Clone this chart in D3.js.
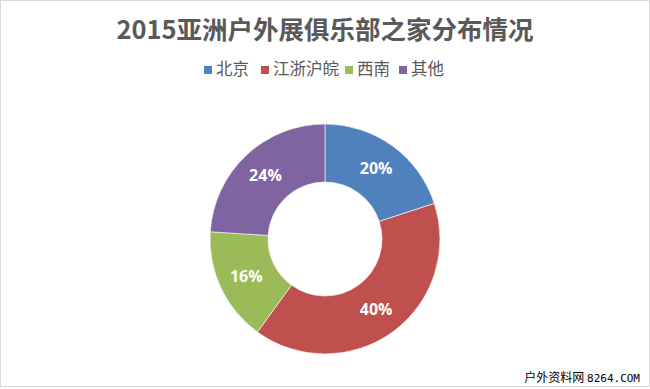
<!DOCTYPE html>
<html>
<head>
<meta charset="utf-8">
<script src="https://cdn.jsdelivr.net/npm/d3@7"></script>
<style>
  body { margin: 0; background: #fff; }
  svg { display: block; }
</style>
</head>
<body>
<svg width="650" height="389"></svg>
<script>
// chart data
var k_title = '2015亚洲户外展俱乐部之家分布情况';
var k_cats = ['北京', '江浙沪皖', '西南', '其他'];
var k_vals = [20, 40, 16, 24];
var k_colors = ['#4f81bd', '#c0504d', '#9bbb59', '#8064a2'];

var svg = d3.select('svg');
var cx = 325, cy = 239;   // donut center
var r_out = 115, r_in = 57;

// frame
svg.append('rect')
	.attr('x', 0.5).attr('y', 0.5)
	.attr('width', 649).attr('height', 386)
	.style('fill', '#fff')
	.style('stroke', '#d9d9d9');

// title
svg.append('text')
	.attr('x', 325).attr('y', 39)
	.attr('text-anchor', 'middle')
	.style('font-family', '"Noto Sans CJK SC", "Open Sans", sans-serif')
	.style('font-size', '25.5px')
	.style('font-weight', 'bold')
	.style('fill', '#595959')
	.text(k_title);

// legend
var legend_x = [204, 261, 345, 399];
var lg = svg.append('g').selectAll('g')
	.data(k_cats)
	.enter()
	.append('g')
	.attr('transform', function(d, i) { return 'translate(' + legend_x[i] + ',66)'; });

lg.append('rect')
	.attr('width', 8).attr('height', 8)
	.style('fill', function(d, i) { return k_colors[i]; });

lg.append('text')
	.attr('x', 12).attr('y', 9)
	.style('font-family', '"Noto Sans CJK SC", sans-serif')
	.style('font-size', '16.5px')
	.style('fill', '#595959')
	.text(function(d) { return d; });

// donut
var pie = d3.pie().sort(null).value(function(d) { return d; });
var arc = d3.arc().innerRadius(r_in).outerRadius(r_out);
var label_arc = d3.arc().innerRadius(87).outerRadius(87);

var g = svg.append('g').attr('transform', 'translate(' + cx + ',' + cy + ')');

g.selectAll('path')
	.data(pie(k_vals))
	.enter()
	.append('path')
	.attr('d', arc)
	.style('fill', function(d, i) { return k_colors[i]; })
	.style('stroke', '#fff')
	.style('stroke-width', 0.6);

g.selectAll('text')
	.data(pie(k_vals))
	.enter()
	.append('text')
	.attr('transform', function(d) { return 'translate(' + label_arc.centroid(d) + ')'; })
	.attr('text-anchor', 'middle')
	.attr('dy', '0.36em')
	.style('font-family', '"Open Sans", "DejaVu Sans", sans-serif')
	.style('font-size', '16px')
	.style('font-weight', 'bold')
	.style('fill', '#fff')
	.text(function(d) { return d.value + '%'; });

// watermark
var wm = svg.append('text')
	.attr('x', 640).attr('y', 382)
	.attr('text-anchor', 'end')
	.style('font-size', '12px')
	.style('fill', '#000');
wm.append('tspan')
	.style('font-family', '"Noto Sans CJK SC", sans-serif')
	.text('户外资料网 ');
wm.append('tspan')
	.style('font-family', '"DejaVu Sans Mono", "Liberation Mono", monospace')
	.style('font-size', '11px')
	.text('8264.COM');
</script>
</body>
</html>
